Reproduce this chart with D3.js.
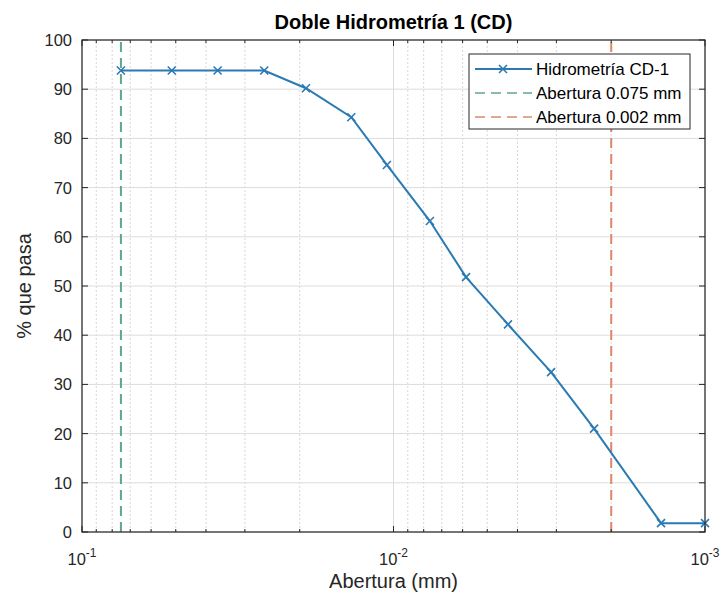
<!DOCTYPE html>
<html><head><meta charset="utf-8">
<script src="https://cdn.jsdelivr.net/npm/d3@7"></script>
<style>body{margin:0;background:#fff;}svg{display:block;font-family:"Liberation Sans",Arial,sans-serif;}</style>
</head><body><div id="chart"></div>
<script>
const aperture = [0.075, 0.0515, 0.0367, 0.026, 0.0191, 0.01366, 0.0105, 0.00764, 0.00585, 0.00429, 0.00312, 0.00227, 0.001384, 0.001];
const passing = [93.8, 93.8, 93.8, 93.8, 90.2, 84.3, 74.6, 63.2, 51.8, 42.2, 32.5, 21.0, 1.8, 1.8];
const refLines = [0.075, 0.002];
const refLabels = ["Abertura 0.075 mm", "Abertura 0.002 mm"];
const seriesLabel = "Hidrometría CD-1";
const yTicks = [0,10,20,30,40,50,60,70,80,90,100];
const xMajor = [0.1, 0.01, 0.001];
const xMajorExp = ["-1", "-2", "-3"];

const W = 726, H = 601;
const m = {l: 82, r: 21, t: 40, b: 69};
const svg = d3.select("#chart").append("svg").attr("width", W).attr("height", H);
const x = d3.scaleLog().domain([0.1, 0.001]).range([m.l, W - m.r]);
const y = d3.scaleLinear().domain([0, 100]).range([H - m.b, m.t]);
const blue = "#2a7ab3", green = "#5fa58f", orange = "#d98a68";

const minor = [];
[0.01, 0.001].forEach(b => { for (let k = 2; k <= 9; k++) minor.push(b * k); });

const g = svg.append("g");
g.selectAll("line.mg").data(minor).enter().append("line")
  .attr("x1", d => x(d)).attr("x2", d => x(d)).attr("y1", y(0)).attr("y2", y(100))
  .attr("stroke", "#d8d8d8").attr("stroke-width", 1).attr("stroke-dasharray", "2,2");
g.selectAll("line.vg").data(xMajor).enter().append("line")
  .attr("x1", d => x(d)).attr("x2", d => x(d)).attr("y1", y(0)).attr("y2", y(100))
  .attr("stroke", "#dcdcdc").attr("stroke-width", 1);
g.selectAll("line.hg").data(yTicks).enter().append("line")
  .attr("x1", m.l).attr("x2", W - m.r).attr("y1", d => y(d)).attr("y2", d => y(d))
  .attr("stroke", "#dcdcdc").attr("stroke-width", 1);

const refColors = [green, orange];
g.selectAll("line.ref").data(refLines).enter().append("line")
  .attr("x1", d => x(d)).attr("x2", d => x(d)).attr("y1", y(0)).attr("y2", y(100))
  .attr("stroke", (d, i) => refColors[i]).attr("stroke-width", 2).attr("stroke-dasharray", "10,6");

const line = d3.line().x((d, i) => x(aperture[i])).y(d => y(d));
g.append("path").datum(passing).attr("d", line).attr("fill", "none").attr("stroke", blue).attr("stroke-width", 2);
const s = 4;
g.selectAll("path.mk").data(passing).enter().append("path")
  .attr("d", (d, i) => { const cx = x(aperture[i]), cy = y(d); return `M${cx-s},${cy-s}L${cx+s},${cy+s}M${cx-s},${cy+s}L${cx+s},${cy-s}`; })
  .attr("stroke", blue).attr("stroke-width", 1.6).attr("fill", "none");

const axc = "#262626";
g.append("rect").attr("x", m.l).attr("y", m.t).attr("width", W - m.r - m.l).attr("height", H - m.b - m.t)
  .attr("fill", "none").attr("stroke", axc).attr("stroke-width", 1.2);

yTicks.forEach(v => {
  g.append("line").attr("x1", m.l).attr("x2", m.l + 6).attr("y1", y(v)).attr("y2", y(v)).attr("stroke", axc);
  g.append("line").attr("x1", W - m.r).attr("x2", W - m.r - 6).attr("y1", y(v)).attr("y2", y(v)).attr("stroke", axc);
  g.append("text").attr("x", m.l - 10).attr("y", y(v) + 6).attr("text-anchor", "end")
    .attr("font-size", 16.5).attr("fill", axc).text(v);
});
xMajor.forEach(v => {
  g.append("line").attr("x1", x(v)).attr("x2", x(v)).attr("y1", y(0)).attr("y2", y(0) - 6).attr("stroke", axc);
  g.append("line").attr("x1", x(v)).attr("x2", x(v)).attr("y1", y(100)).attr("y2", y(100) + 6).attr("stroke", axc);
});
minor.forEach(v => {
  g.append("line").attr("x1", x(v)).attr("x2", x(v)).attr("y1", y(0)).attr("y2", y(0) - 3).attr("stroke", axc);
  g.append("line").attr("x1", x(v)).attr("x2", x(v)).attr("y1", y(100)).attr("y2", y(100) + 3).attr("stroke", axc);
});
xMajor.forEach((v, i) => {
  const t = g.append("text").attr("x", x(v)).attr("y", y(0) + 33).attr("text-anchor", "middle")
    .attr("font-size", 16.5).attr("fill", axc);
  t.append("tspan").text("10");
  t.append("tspan").attr("dy", -8).attr("font-size", 12).text(xMajorExp[i]);
});

svg.append("text").attr("x", (m.l + W - m.r) / 2).attr("y", 29).attr("text-anchor", "middle")
  .attr("font-size", 20).attr("font-weight", "bold").attr("fill", "#000").text("Doble Hidrometría 1 (CD)");
svg.append("text").attr("x", (m.l + W - m.r) / 2).attr("y", 588).attr("text-anchor", "middle")
  .attr("font-size", 20).attr("fill", axc).text("Abertura (mm)");
svg.append("text").attr("transform", `translate(31,${(m.t + H - m.b) / 2}) rotate(-90)`).attr("text-anchor", "middle")
  .attr("font-size", 20).attr("fill", axc).text("% que pasa");

const lg = svg.append("g");
const lx = 469, ly = 54, lw = 221, lh = 75;
lg.append("rect").attr("x", lx).attr("y", ly).attr("width", lw).attr("height", lh)
  .attr("fill", "#fff").attr("stroke", axc).attr("stroke-width", 1);
const items = [{label: seriesLabel, color: blue, dash: null}].concat(refLabels.map((l, i) => ({label: l, color: refColors[i], dash: "10,6"})));
items.forEach((it, i) => {
  const cy = ly + 15 + i * 24;
  lg.append("line").attr("x1", lx + 6).attr("x2", lx + 63).attr("y1", cy).attr("y2", cy)
    .attr("stroke", it.color).attr("stroke-width", i === 0 ? 2 : 1.5).attr("stroke-dasharray", it.dash);
  if (i === 0) {
    const cx = lx + 34;
    lg.append("path").attr("d", `M${cx-s},${cy-s}L${cx+s},${cy+s}M${cx-s},${cy+s}L${cx+s},${cy-s}`)
      .attr("stroke", it.color).attr("stroke-width", 1.6);
  }
  lg.append("text").attr("x", lx + 67).attr("y", cy + 6).attr("font-size", 17).attr("fill", "#000").text(it.label);
});
</script></body></html>
